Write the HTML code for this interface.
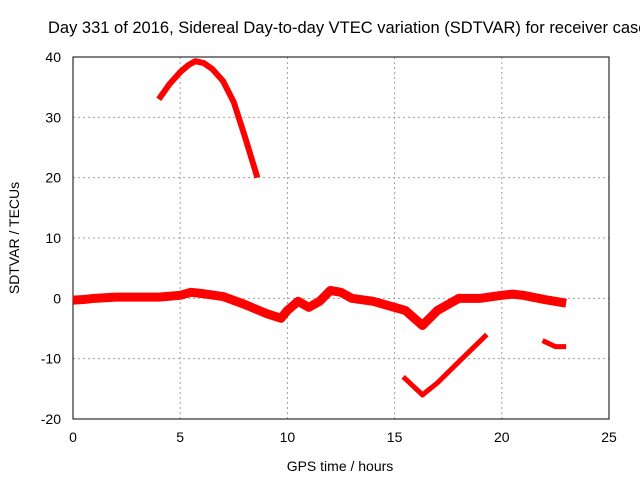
<!DOCTYPE html>
<html><head><meta charset="utf-8"><style>
body{margin:0;background:#fff;overflow:hidden;}
svg text{font-family:"Liberation Sans",sans-serif;font-size:14px;fill:#000;}
</style></head><body>
<svg id="chart" width="640" height="480" xmlns="http://www.w3.org/2000/svg"></svg>
<script>
const xTicks=[0,5,10,15,20,25];
const yTicks=[-20,-10,0,10,20,30,40];
const mainX=[0,0.5,1,2,3,4,5,5.5,6,7,8,9,9.7,10,10.5,11,11.5,12,12.5,13,14,15,15.5,16.3,17,18,19,20,20.5,21,22,23];
const mainY=[-0.3,-0.2,0,0.2,0.2,0.2,0.5,1,0.8,0.3,-1,-2.5,-3.3,-2,-0.5,-1.5,-0.5,1.3,1,0,-0.5,-1.5,-2,-4.5,-2,0,0,0.5,0.7,0.5,-0.2,-0.8];
const arcX=[4,4.5,5,5.4,5.7,6.1,6.5,7,7.5,8,8.3,8.6];
const arcY=[33,35.5,37.5,38.7,39.3,39,38,36,32.5,27,23.5,20];
const vX=[15.4,16.3,17,18,19.3];
const vY=[-13,-16,-14,-10.5,-6];
const sX=[21.9,22.5,23];
const sY=[-7,-8,-8];
const svg=document.getElementById('chart');
const NS='http://www.w3.org/2000/svg';
const L=73,R=609,T=57,B=419;
const xs=v=>L+(v-0)/25*(R-L);
const ys=v=>B-(v+20)/60*(B-T);
function mk(t,a){const e=document.createElementNS(NS,t);for(const k in a)e.setAttribute(k,a[k]);svg.appendChild(e);return e;}
xTicks.forEach(v=>{
 if(v>0&&v<25){const g=mk('line',{x1:xs(v),x2:xs(v),y1:T,y2:B,stroke:'#a0a0a0','stroke-dasharray':'2,3'});
 
 }
 const t=mk('text',{x:xs(v),y:B+23,'text-anchor':'middle'});t.textContent=v;
 
 
});
yTicks.forEach(v=>{
 if(v>-20&&v<40){const g=mk('line',{x1:L,x2:R,y1:ys(v),y2:ys(v),stroke:'#a0a0a0','stroke-dasharray':'2,3'});
 
 }
 const t=mk('text',{x:L-12,y:ys(v)+5,'text-anchor':'end'});t.textContent=v;
 
 
});
const frame=mk('rect',{x:L,y:T,width:R-L,height:B-T,fill:'none',stroke:'#000'});


function series(X,Y,w,name){
 const pts=X.map((x,i)=>xs(x)+','+ys(Y[i])).join(' ');
 const p=mk('polyline',{points:pts,fill:'none',stroke:'#ff0000','stroke-width':w,'stroke-linejoin':'round','stroke-linecap':'butt'});
 
 
}
series(mainX,mainY,9,'main-band-series');
series(arcX,arcY,6,'arc-series');
series(vX,vY,5,'v-series');
series(sX,sY,5,'short-series');
const title=mk('text',{x:48,y:33,style:'font-size:16.5px'});title.textContent='Day 331 of 2016, Sidereal Day-to-day VTEC variation (SDTVAR) for receiver cascade';


const xl=mk('text',{x:340,y:471,'text-anchor':'middle'});xl.textContent='GPS time / hours';


const yl=mk('text',{x:0,y:0,'text-anchor':'middle',transform:'translate(19,238) rotate(-90)'});yl.textContent='SDTVAR / TECUs';


</script>
</body></html>
